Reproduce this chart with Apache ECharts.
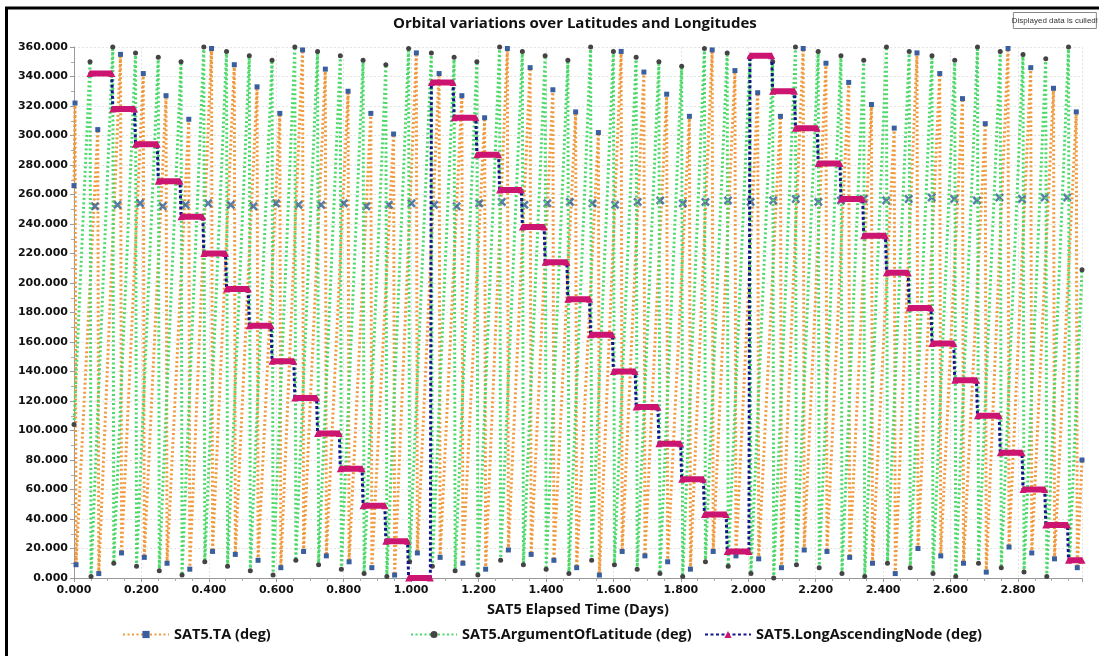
<!DOCTYPE html>
<html><head><meta charset="utf-8">
<script src="https://cdn.jsdelivr.net/npm/echarts@6/dist/echarts.min.js"></script>
<style>html,body{margin:0;padding:0;background:#fff}#c{width:1099px;height:656px}</style>
</head><body><div id="c"></div>
<script>
// ---- data (time in days, angles in deg) ----
const xTicks = [0, 0.2, 0.4, 0.6, 0.8, 1.0, 1.2, 1.4, 1.6, 1.8, 2.0, 2.2, 2.4, 2.6, 2.8];
const yTicks = [0, 20, 40, 60, 80, 100, 120, 140, 160, 180, 200, 220, 240, 260, 280, 300, 320, 340, 360];

// node crossings (AOL wraps / LAN changes)
const nodeTimes = [0.0475,0.115,0.1825,0.25,0.3175,0.385,0.4525,0.52,0.5875,0.655,0.7225,0.79,0.8575,0.925,0.9925,
  1.06,1.1275,1.195,1.2625,1.33,1.3975,1.465,1.5325,1.60,1.6675,1.735,1.8025,1.87,1.9375,
  2.005,2.0725,2.14,2.2075,2.275,2.3425,2.41,2.4775,2.545,2.6125,2.68,2.7475,2.815,2.8825,2.95];
const aolPeaks = [350,360,356,353,350,360,357,354,351,360,357,354,351,348,359,356,353,350,360,357,354,351,
  360,357,353,350,347,359,356,353,350,360,357,354,351,360,357,354,351,360,357,355,352,360];
const aolTroughs = [1,10,8,5,2,11,8,5,2,12,9,6,3,1,11,8,5,2,12,9,6,3,12,9,6,3,1,11,8,3,0,9,7,3,1,10,7,3,1,10,7,4,1,12];
const aolStart = [0, 104];
const aolEnd = [2.99, 209];

const taPeakTimes = [0.003,0.0705,0.138,0.2055,0.273,0.3405,0.408,0.4755,0.543,0.6105,0.678,0.7455,0.813,0.8805,0.948,
  1.0155,1.083,1.1505,1.218,1.2855,1.353,1.4205,1.488,1.5555,1.623,1.6905,1.758,1.8255,1.893,1.9605,
  2.028,2.0955,2.163,2.2305,2.298,2.3655,2.433,2.5005,2.568,2.6355,2.703,2.7705,2.838,2.9055,2.973];
const taPeaks = [322,304,355,342,327,311,359,348,333,315,358,345,330,315,301,356,342,327,312,359,346,331,316,302,
  357,343,328,313,358,344,329,313,359,349,336,321,305,356,342,325,308,359,346,332,316];
const taTroughs = [9,3,17,14,10,6,18,16,12,7,18,15,11,7,2,17,14,10,6,19,16,12,7,2,18,15,11,6,18,15,13,7,19,18,14,10,3,20,15,10,4,21,17,13,7];
const taStart = [0, 266];
const taEnd = [2.99, 80];
const taNodeTimes = [0.062,0.129,0.196,0.263,0.331,0.398,0.465,0.532,0.599,0.666,0.733,0.800,0.867,0.934,1.001,
  1.068,1.135,1.202,1.269,1.336,1.404,1.471,1.538,1.605,1.672,1.739,1.806,1.873,1.940,
  2.007,2.074,2.141,2.208,2.275,2.342,2.409,2.476,2.544,2.611,2.678,2.745,2.812,2.879,2.946];
const taNodeValues = [252,253,254,252,253,254,253,252,254,253,253,254,252,253,254,253,252,254,255,253,254,255,254,
  253,255,256,254,255,256,255,256,257,255,256,257,256,257,258,257,256,258,257,258,258];

const lanValues = [342,318,294,269,245,220,196,171,147,122,98,74,49,25,0,
  336,312,287,263,238,214,189,165,140,116,91,67,43,18,
  354,330,305,281,257,232,207,183,159,134,110,85,60,36,12];
const lanEndTime = 2.99;
const WRAP_DT = 0.003; // sample gap across a 360->0 wrap

// ---- build series data ----
const aolData = [aolStart];
nodeTimes.forEach((t, i) => { aolData.push([t, aolPeaks[i]]); aolData.push([t + WRAP_DT, aolTroughs[i]]); });
aolData.push(aolEnd);

const taData = [taStart];
taPeakTimes.forEach((t, i) => { taData.push([t, taPeaks[i]]); taData.push([t + WRAP_DT, taTroughs[i]]); });
taData.push(taEnd);

const taNodes = taNodeTimes.map((t, i) => [t, taNodeValues[i]]);

const lanData = [];
const lanBars = [];
lanValues.forEach((v, i) => {
  const t0 = nodeTimes[i];
  const t1 = i + 1 < nodeTimes.length ? nodeTimes[i + 1] - WRAP_DT : lanEndTime;
  lanData.push([t0, v]); lanData.push([t1, v]);
  lanBars.push([t0, v]); lanBars.push([t1, v]); lanBars.push([null, null]);
});

const TA = 'SAT5.TA (deg)', AOL = 'SAT5.ArgumentOfLatitude (deg)', LAN = 'SAT5.LongAscendingNode (deg)';
const labelFont = { fontFamily: 'DejaVu Sans', fontWeight: 'bold', fontSize: 11, color: '#111' };
const legendText = { fontFamily: 'Open Sans', fontWeight: 'bold', fontSize: 14.5, color: '#111' };
const xSymbol = 'path://M2,0 L5,3 L8,0 L10,2 L7,5 L10,8 L8,10 L5,7 L2,10 L0,8 L3,5 L0,2Z';

const chart = echarts.init(document.getElementById('c'), null, { renderer: 'canvas' });
chart.setOption({
  animation: false,
  backgroundColor: '#fff',
  title: { text: 'Orbital variations over Latitudes and Longitudes', left: 388, top: 11,
    textStyle: { fontFamily: 'Open Sans', fontWeight: 'bold', fontSize: 15, color: '#111' } },
  grid: { left: 74, right: 17, top: 47, bottom: 78 },
  legend: [
    { data: [TA], left: 117, top: 622, itemWidth: 46, itemHeight: 9, textStyle: legendText },
    { data: [AOL], left: 405, top: 622, itemWidth: 46, itemHeight: 9, textStyle: legendText },
    { data: [LAN], left: 699, top: 622, itemWidth: 46, itemHeight: 9, textStyle: legendText }
  ],
  xAxis: {
    type: 'value', min: 0, max: 2.99, interval: 0.2,
    name: 'SAT5 Elapsed Time (Days)', nameLocation: 'middle', nameGap: 24,
    nameTextStyle: { fontFamily: 'Open Sans', fontWeight: 'bold', fontSize: 14.5, color: '#111' },
    axisLine: { lineStyle: { color: '#999' } },
    axisTick: { lineStyle: { color: '#999' }, length: 4 },
    minorTick: { show: true, splitNumber: 4, length: 3, lineStyle: { color: '#aaa' } },
    axisLabel: Object.assign({ showMaxLabel: false, margin: 7, formatter: v => v.toFixed(3) }, labelFont),
    splitLine: { show: true, lineStyle: { color: '#e4e4e4', type: [2, 2] } }
  },
  yAxis: {
    type: 'value', min: 0, max: 360, interval: 20,
    axisLine: { show: true, lineStyle: { color: '#999' } },
    axisTick: { show: true, lineStyle: { color: '#999' }, length: 4 },
    minorTick: { show: true, splitNumber: 2, length: 3, lineStyle: { color: '#aaa' } },
    axisLabel: Object.assign({ margin: 6, formatter: v => v.toFixed(3) }, labelFont),
    splitLine: { show: true, lineStyle: { color: '#e4e4e4', type: [2, 2] } }
  },
  graphic: [
    { type: 'rect', shape: { x: 6.5, y: 8, width: 1200, height: 800 }, style: { fill: 'none', stroke: '#000', lineWidth: 3 }, silent: true },
    { type: 'group', right: 1, top: 12, children: [
      { type: 'rect', shape: { x: 0, y: 0, width: 83, height: 16 }, style: { fill: '#fff', stroke: '#888', lineWidth: 1 } },
      { type: 'text', x: 41.5, y: 8, style: { text: 'Displayed data is culled!', fontFamily: 'Liberation Sans', fontSize: 8, fill: '#333', align: 'center', verticalAlign: 'middle' } }
    ] }
  ],
  series: [
    { name: TA, type: 'line', data: taData, z: 2,
      symbol: 'rect', symbolSize: 5, showSymbol: true, showAllSymbol: true,
      itemStyle: { color: '#3a5f9e' },
      lineStyle: { color: '#f09a3e', width: 3, type: [2, 2.5] } },
    { name: '_taNodes', type: 'scatter', data: taNodes, z: 3,
      symbol: xSymbol, symbolSize: 9, itemStyle: { color: '#2f5e92' } },
    { name: AOL, type: 'line', data: aolData, z: 4,
      symbol: 'circle', symbolSize: 5, showSymbol: true, showAllSymbol: true,
      itemStyle: { color: '#444' },
      lineStyle: { color: '#4cd96a', width: 3, type: [2, 2.5] } },
    { name: LAN, type: 'line', data: lanData, z: 5,
      symbol: 'triangle', symbolSize: 8, showSymbol: false,
      itemStyle: { color: '#cc1570' },
      lineStyle: { color: '#14148a', width: 3, type: [3, 2.5] } },
    { name: '_lanBars', type: 'line', data: lanBars, z: 6, connectNulls: false,
      symbol: 'triangle', symbolSize: 7, showSymbol: true, showAllSymbol: true,
      itemStyle: { color: '#cc1570' },
      lineStyle: { color: '#cc1570', width: 6 } }
  ]
});
</script></body></html>
